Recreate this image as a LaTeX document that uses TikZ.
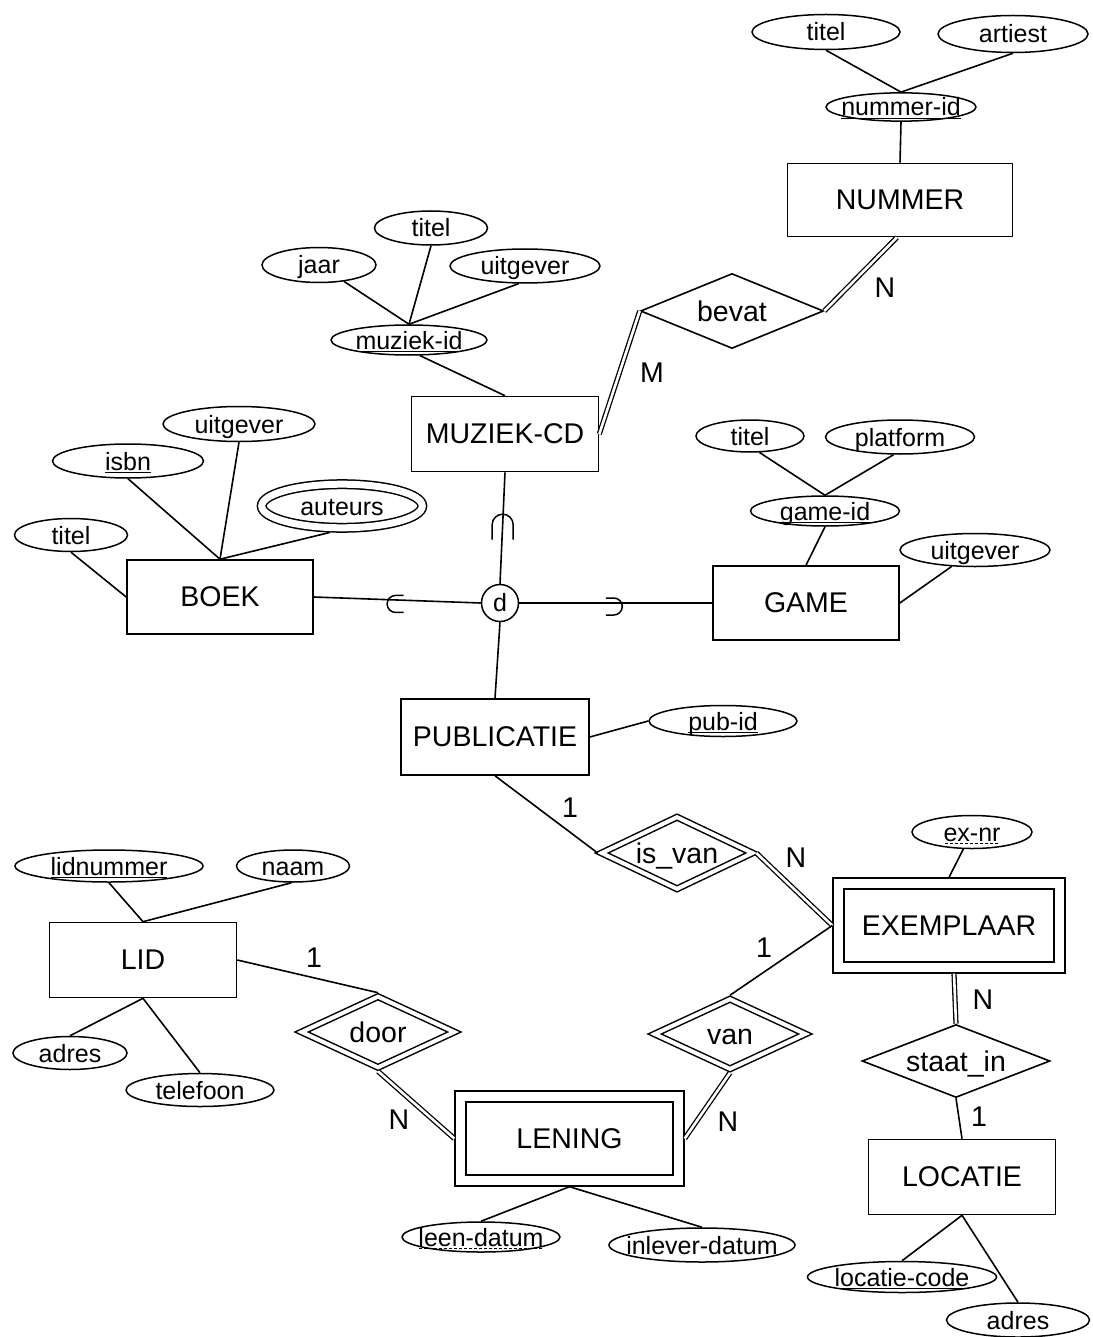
\documentclass[tikz,border=0pt]{standalone}
\usepackage{fontspec}
\setmainfont{Liberation Sans}
\usetikzlibrary{shapes.geometric}
\newcommand{\entfont}{\fontsize{28.5}{30}\selectfont}
\newcommand{\attfont}{\fontsize{25}{27}\selectfont}
\newcommand{\zb}[1]{\makebox[0pt]{#1}}
\newsavebox{\ulbox}
\newcommand{\myul}[1]{\sbox{\ulbox}{#1}\rlap{\usebox{\ulbox}}\rule[-3pt]{\wd\ulbox}{1.2pt}}
\newcommand{\mydul}[1]{\sbox{\ulbox}{#1}\rlap{\usebox{\ulbox}}\hbox to \wd\ulbox{\leaders\hbox to 5pt{\hss\rule[-3pt]{3pt}{1.1pt}\hss}\hfill}}
\begin{document}
\begin{tikzpicture}[x=1pt,y=-1pt,
  ent/.style={draw, line width=1.6pt, rectangle, minimum width=187pt, minimum height=75pt, inner sep=0pt, font=\entfont},
  weakent/.style={draw, line width=1.5pt, double, double distance=9.5pt, rectangle, inner sep=0pt, outer sep=6.2pt, font=\entfont},
  attr/.style={draw, line width=1.5pt, ellipse, inner sep=0pt, minimum width=#1, minimum height=33pt, font=\attfont, text height=19pt, text depth=1pt},
  rel/.style={draw, line width=1.6pt, diamond, inner sep=0pt, font=\entfont, text height=21pt, text depth=1pt},
  weakrel/.style={rel, line width=1.5pt, double, double distance=4pt, outer sep=2.8pt},
  card/.style={font=\entfont, inner sep=0pt},
  conn/.style={line width=1.6pt},
  dconn/.style={line width=1.3pt, double, double distance=2.6pt},
  subs/.style={line width=1.5pt}
]
\fill[white] (0,0) rectangle (1092,1337);
\useasboundingbox (0,0) rectangle (1092,1337);

% entities
\node[ent, minimum width=225pt, minimum height=73pt] (NUM) at (900,200) {NUMMER};
\node[ent] (MCD) at (505,434) {MUZIEK-CD};
\node[ent, minimum width=186pt, minimum height=74pt] (BOEK) at (220,597) {BOEK};
\node[ent, minimum width=186pt, minimum height=74pt] (GAME) at (806,603) {GAME};
\node[ent, minimum width=188pt, minimum height=76pt] (PUB) at (495,737) {PUBLICATIE};
\node[ent] (LID) at (143,960) {LID};
\node[ent] (LOC) at (962,1177) {LOCATIE};
\node[weakent, minimum width=221pt, minimum height=84pt] (EX) at (949,925.5) {EXEMPLAAR};
\node[weakent, minimum width=218pt, minimum height=84pt] (LEN) at (569.5,1138.5) {LENING};

% relationships
\node[rel, minimum width=183pt, minimum height=75pt] (bevat) at (732,311) {\zb{bevat}};
\node[weakrel, minimum width=153pt, minimum height=74pt] (isvan) at (677,853) {\zb{is\_van}};
\node[weakrel, minimum width=153pt, minimum height=72pt] (van) at (730,1034) {\zb{van}};
\node[weakrel, minimum width=155pt, minimum height=73pt] (door) at (378,1032) {\zb{door}};
\node[rel, minimum width=188pt, minimum height=73pt] (stin) at (956,1061) {\zb{staat\_in}};
\node[draw, circle, line width=1.5pt, minimum size=37pt, inner sep=0pt, font=\attfont] (d) at (500,603) {d};

% attributes
\node[attr=148pt, minimum height=35pt] (t1) at (826,32) {\zb{titel}};
\node[attr=150pt, minimum height=37pt] (art) at (1013,34) {\zb{artiest}};
\node[attr=150pt, minimum height=28pt] (nid) at (901,107) {\zb{\myul{nummer-id}}};
\node[attr=114pt, minimum height=35pt] (jaar) at (319,265) {\zb{jaar}};
\node[attr=113pt, minimum height=34pt] (t2) at (431,228) {\zb{titel}};
\node[attr=150pt, minimum height=34pt] (uit1) at (525,266) {\zb{uitgever}};
\node[attr=156pt, minimum height=30pt] (mid) at (409,340) {\zb{\myul{muziek-id}}};
\node[attr=152pt, minimum height=35pt] (uit2) at (239,424) {\zb{uitgever}};
\node[attr=151pt, minimum height=34pt] (isbn) at (128,461) {\zb{\myul{isbn}}};
\node[attr=160.6pt, minimum height=43.6pt, double, double distance=7pt, outer sep=5pt] (aut) at (342,506) {\zb{auteurs}};
\node[attr=113pt, minimum height=33pt] (t3) at (71,535) {\zb{titel}};
\node[attr=108pt, minimum height=32pt] (t4) at (750,436) {\zb{titel}};
\node[attr=149pt, minimum height=34pt] (plat) at (900,437) {\zb{platform}};
\node[attr=149pt, minimum height=30pt] (gid) at (825,511) {\zb{\myul{game-id}}};
\node[attr=150pt, minimum height=33pt] (uit3) at (975,550) {\zb{uitgever}};
\node[attr=148pt, minimum height=31pt] (pid) at (723,721) {\zb{\myul{pub-id}}};
\node[attr=120pt, minimum height=33pt] (exnr) at (972,832) {\zb{\mydul{ex-nr}}};
\node[attr=188pt, minimum height=32pt] (lnr) at (109,866) {\zb{\myul{lidnummer}}};
\node[attr=113pt, minimum height=32pt] (naam) at (293,866) {\zb{naam}};
\node[attr=114pt, minimum height=33pt] (adr1) at (70,1053) {\zb{adres}};
\node[attr=148pt, minimum height=33pt] (tel) at (200,1090) {\zb{telefoon}};
\node[attr=158pt, minimum height=30pt] (ld) at (481,1237) {\zb{\mydul{leen-datum}}};
\node[attr=186pt, minimum height=34pt] (ild) at (702,1245) {\zb{inlever-datum}};
\node[attr=189pt, minimum height=31pt] (lc) at (902,1277) {\zb{\myul{locatie-code}}};
\node[attr=143pt, minimum height=34pt] (adr2) at (1018,1320) {\zb{adres}};

% cardinalities
\node[card] (c1) at (885,288) {N};
\node[card] (c2) at (652,373) {M};
\node[card] (c3) at (570,808) {1};
\node[card] (c4) at (796,858) {N};
\node[card] (c5) at (764,948) {1};
\node[card] (c6) at (983,1000) {N};
\node[card] (c7) at (979,1117) {1};
\node[card] (c8) at (314,958) {1};
\node[card] (c9) at (399,1120) {N};
\node[card] (c10) at (728,1122) {N};

% connectors
\draw[conn] (t1.south) -- (nid.north);
\draw[conn] (art.south) -- (nid.north);
\draw[conn] (nid.south) -- (NUM.north);
\draw[dconn] (bevat.east) -- ([xshift=-3pt]NUM.south);
\draw[dconn] (bevat.west) -- (MCD.east);
\draw[conn] (jaar) -- (mid.north);
\draw[conn] (t2.south) -- (mid.north);
\draw[conn] (uit1.250) -- (mid.north);
\draw[conn] (mid.-55) -- (MCD.north);
\draw[conn] (t3.south) -- (BOEK.west);
\draw[conn] (isbn.south) -- (BOEK.north);
\draw[conn] (uit2.south) -- (BOEK.north);
\draw[conn] (aut.245) -- (BOEK.north);
\draw[conn] (BOEK.east) -- coordinate[pos=0.49] (sB) (d.west);
\draw[conn] (d.east) -- coordinate[pos=0.49] (sG) (GAME.west);
\draw[conn] (MCD.south) -- coordinate[pos=0.47] (sM) (d.north);
\draw[conn] (d.south) -- (PUB.north);
\draw[conn] (t4.-60) -- (gid.north);
\draw[conn] (plat.-110) -- (gid.north);
\draw[conn] (gid.south) -- (GAME.north);
\draw[conn] (uit3) -- (GAME.east);
\draw[conn] (PUB.east) -- (pid.west);
\draw[conn] (PUB.south) -- (isvan.west);
\draw[dconn] (isvan.east) -- (EX.west);
\draw[conn] (exnr) -- (EX.north);
\draw[conn] (EX.west) -- (van.north);
\draw[dconn] (van.south) -- (LEN.east);
\draw[conn] (LID.east) -- (door.north);
\draw[dconn] (door.south) -- (LEN.west);
\draw[conn] (LEN.south) -- (ld.north);
\draw[conn] (LEN.south) -- (ild.north);
\draw[dconn] ([xshift=5pt]EX.south) -- (stin.north);
\draw[conn] (stin.south) -- (LOC.north);
\draw[conn] (LOC.south) -- (lc.north);
\draw[conn] (LOC.south) -- (adr2.north);
\draw[conn] (lnr.south) -- (LID.north);
\draw[conn] (naam.265) -- (LID.north);
\draw[conn] (LID.south) -- (adr1.north);
\draw[conn] (LID.south) -- (tel.north);

% subset symbols
\draw[subs] ([shift={(8,12.5)}]sB) -- ++(-8,0) arc[start angle=90,end angle=270,radius=8.5] -- ++(8,0);
\draw[subs] ([shift={(-8,-5)}]sG) -- ++(8,0) arc[start angle=-90,end angle=90,radius=8.5] -- ++(-8,0);
\draw[subs] ([shift={(-10.5,15)}]sM) -- ++(0,-15) arc[start angle=180,end angle=360,radius=10.5] -- ++(0,15);
\end{tikzpicture}
\end{document}
